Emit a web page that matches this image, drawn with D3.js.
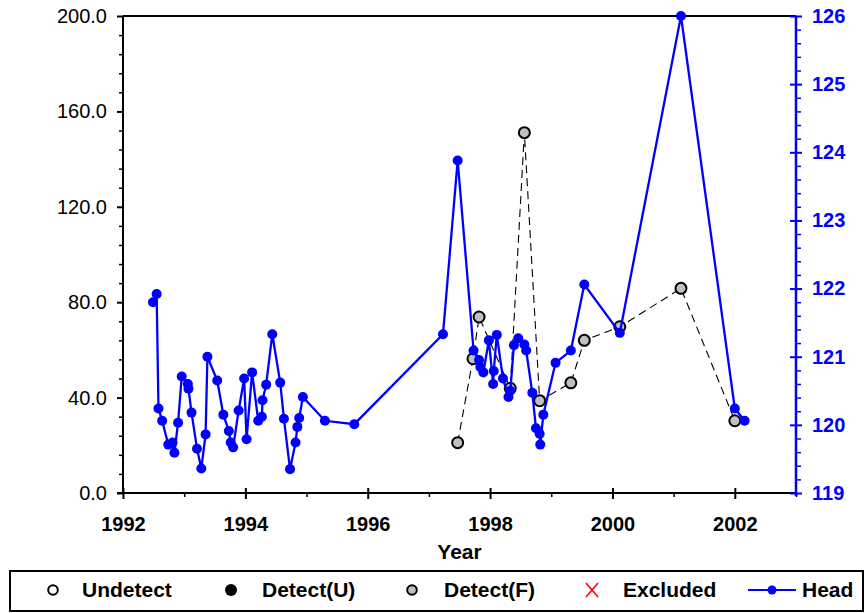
<!DOCTYPE html>
<html>
<head>
<meta charset="utf-8">
<script src="https://cdn.jsdelivr.net/npm/d3@7"></script>
<style>
  html, body { margin: 0; padding: 0; background: #fff; }
  svg { display: block; font-family: "Liberation Sans", Arial, sans-serif; }
</style>
</head>
<body>
<svg id="chart" width="866" height="613"></svg>
<script>
// ---- data ----
const headYears = [
  1992.49, 1992.55, 1992.58, 1992.64, 1992.74, 1992.81, 1992.84, 1992.90, 1992.96, 1993.06,
  1993.07, 1993.12, 1993.21, 1993.28, 1993.35, 1993.38, 1993.54, 1993.64, 1993.73, 1993.76,
  1993.80, 1993.89, 1993.98, 1994.02, 1994.11, 1994.21, 1994.27, 1994.28, 1994.34, 1994.44,
  1994.57, 1994.63, 1994.73, 1994.82, 1994.85, 1994.88, 1994.94, 1995.30, 1995.78, 1997.23,
  1997.47, 1997.73, 1997.82, 1997.84, 1997.89, 1997.98, 1998.05, 1998.06, 1998.11, 1998.21,
  1998.30, 1998.33, 1998.39, 1998.46, 1998.56, 1998.59, 1998.69, 1998.75, 1998.81, 1998.82,
  1998.87, 1999.07, 1999.32, 1999.54, 2000.12, 2001.12, 2002.00, 2002.16
];
const headValues = [
  121.80, 121.92, 120.24, 120.06, 119.71, 119.74, 119.59, 120.03, 120.71, 120.60,
  120.53, 120.18, 119.65, 119.36, 119.86, 121.00, 120.65, 120.15, 119.91, 119.74,
  119.67, 120.21, 120.68, 119.79, 120.77, 120.06, 120.12, 120.36, 120.59, 121.33,
  120.62, 120.09, 119.35, 119.74, 119.97, 120.10, 120.41, 120.06, 120.01, 121.33,
  123.88, 121.09, 120.95, 120.85, 120.77, 121.24, 120.60, 120.79, 121.32, 120.68,
  120.41, 120.50, 121.17, 121.27, 121.18, 121.09, 120.47, 119.95, 119.87, 119.71,
  120.15, 120.91, 121.09, 122.06, 121.35, 126.00, 120.24, 120.06
];
const detectFYears = [1997.47, 1997.72, 1997.82, 1998.33, 1998.56, 1998.81, 1999.32, 1999.54, 2000.12, 2001.12, 2002.00];
const detectFValues = [21.1, 56.3, 73.8, 43.9, 151.1, 38.7, 46.2, 64.0, 69.7, 85.8, 30.3];

const xMajorTicks = [1992, 1994, 1996, 1998, 2000, 2002];
const xMinorTicks = [1993, 1995, 1997, 1999, 2001, 2003];
const leftMajorTicks = [0, 40, 80, 120, 160, 200];
const rightMajorTicks = [119, 120, 121, 122, 123, 124, 125, 126];
const legendLabels = ["Undetect", "Detect(U)", "Detect(F)", "Excluded", "Head"];

// ---- layout ----
const L = 123, R = 796, T = 16, B = 493;
const BLUE = "#0000ff";
const svg = d3.select("#chart");

const x = d3.scaleLinear().domain([1992, 2003]).range([L, R]);
const yL = d3.scaleLinear().domain([0, 200]).range([B, T]);
const yR = d3.scaleLinear().domain([119, 126]).range([B, T]);

const leftMinor = d3.range(0, 200.001, 8).filter(v => !leftMajorTicks.includes(v));
const rightMinor = d3.range(119, 126.001, 0.2).map(v => +v.toFixed(1)).filter(v => Math.abs(v - Math.round(v)) > 1e-6);

function styleAxis(g, color, width) {
  g.selectAll("path.domain").remove();
  g.selectAll("line").attr("stroke", color).attr("stroke-width", width);
}

// top frame line
svg.append("line").attr("x1", L).attr("x2", R).attr("y1", T).attr("y2", T)
  .attr("stroke", "#000").attr("stroke-width", 2);

// ---- left axis ----
svg.append("g").attr("transform", `translate(${L},0)`)
  .call(d3.axisLeft(yL).tickValues(leftMinor).tickSize(4).tickFormat(""))
  .call(g => styleAxis(g, "#000", 1.5));
const gl = svg.append("g").attr("transform", `translate(${L},0)`)
  .call(d3.axisLeft(yL).tickValues(leftMajorTicks).tickSize(6).tickPadding(10).tickFormat(d3.format(".1f")))
  .call(g => styleAxis(g, "#000", 2));
gl.selectAll("text").attr("font-size", 20).attr("fill", "#000").attr("font-family", "'Liberation Sans', Arial, sans-serif");
svg.append("line").attr("x1", L).attr("x2", L).attr("y1", T).attr("y2", B)
  .attr("stroke", "#000").attr("stroke-width", 2);

// ---- bottom axis ----
svg.append("g").attr("transform", `translate(0,${B})`)
  .call(d3.axisBottom(x).tickValues(xMinorTicks).tickSize(4).tickFormat(""))
  .call(g => styleAxis(g, "#000", 1.5));
svg.append("g").attr("transform", `translate(0,${B})`)
  .call(d3.axisBottom(x).tickValues(xMajorTicks).tickSize(-5).tickFormat(""))
  .call(g => styleAxis(g, "#000", 2));
const gb = svg.append("g").attr("transform", `translate(0,${B})`)
  .call(d3.axisBottom(x).tickValues(xMajorTicks).tickSize(6).tickPadding(18).tickFormat(d3.format("d")))
  .call(g => styleAxis(g, "#000", 2));
gb.selectAll("text").attr("font-size", 20).attr("font-weight", "bold").attr("fill", "#000")
  .attr("font-family", "'Liberation Sans', Arial, sans-serif");
svg.append("line").attr("x1", L - 6).attr("x2", R).attr("y1", B).attr("y2", B)
  .attr("stroke", "#000").attr("stroke-width", 2);

svg.append("text").attr("x", (L + R) / 2).attr("y", 559).attr("text-anchor", "middle")
  .attr("font-size", 21).attr("font-weight", "bold").attr("fill", "#000").text("Year");

// ---- right axis ----
svg.append("g").attr("transform", `translate(${R},0)`)
  .call(d3.axisRight(yR).tickValues(rightMinor).tickSize(5).tickFormat(""))
  .call(g => styleAxis(g, BLUE, 1.5));
svg.append("g").attr("transform", `translate(${R},0)`)
  .call(d3.axisRight(yR).tickValues(rightMajorTicks).tickSize(-6).tickFormat(""))
  .call(g => styleAxis(g, BLUE, 2));
const gr = svg.append("g").attr("transform", `translate(${R},0)`)
  .call(d3.axisRight(yR).tickValues(rightMajorTicks).tickSize(6).tickPadding(10).tickFormat(d3.format("d")))
  .call(g => styleAxis(g, BLUE, 2));
gr.selectAll("text").attr("font-size", 20).attr("font-weight", "bold").attr("fill", BLUE)
  .attr("font-family", "'Liberation Sans', Arial, sans-serif");
svg.append("line").attr("x1", R).attr("x2", R).attr("y1", T).attr("y2", B + 3)
  .attr("stroke", BLUE).attr("stroke-width", 2.5);

// ---- Detect(F) series (left axis) ----
const detectF = detectFYears.map((d, i) => ({ x: d, y: detectFValues[i] }));
svg.append("path").datum(detectF)
  .attr("fill", "none").attr("stroke", "#000").attr("stroke-width", 1.1).attr("stroke-dasharray", "8,5")
  .attr("d", d3.line().x(d => x(d.x)).y(d => yL(d.y)));
svg.append("g").selectAll("circle").data(detectF).join("circle")
  .attr("cx", d => x(d.x)).attr("cy", d => yL(d.y)).attr("r", 5.5)
  .attr("fill", "#c0c0c0").attr("stroke", "#000").attr("stroke-width", 2);

// ---- Head series (right axis) ----
const head = headYears.map((d, i) => ({ x: d, y: headValues[i] }));
svg.append("path").datum(head)
  .attr("fill", "none").attr("stroke", BLUE).attr("stroke-width", 2.3)
  .attr("d", d3.line().x(d => x(d.x)).y(d => yR(d.y)));
svg.append("g").selectAll("circle").data(head).join("circle")
  .attr("cx", d => x(d.x)).attr("cy", d => yR(d.y)).attr("r", 5).attr("fill", BLUE);

// ---- legend ----
const lg = svg.append("g");
lg.append("rect").attr("x", 10).attr("y", 571).attr("width", 853).attr("height", 40)
  .attr("fill", "#fff").attr("stroke", "#000").attr("stroke-width", 2);
const ly = 590;
const symX = [53, 231, 412, 592, 772];
const textX = [82, 262, 444, 623, 802];
// Undetect
lg.append("circle").attr("cx", symX[0]).attr("cy", ly).attr("r", 4.8).attr("fill", "#fff").attr("stroke", "#000").attr("stroke-width", 2);
// Detect(U)
lg.append("circle").attr("cx", symX[1]).attr("cy", ly).attr("r", 6).attr("fill", "#000");
// Detect(F)
lg.append("circle").attr("cx", symX[2]).attr("cy", ly).attr("r", 4.8).attr("fill", "#c0c0c0").attr("stroke", "#000").attr("stroke-width", 2);
// Excluded
lg.append("path").attr("d", `M${symX[3]-6},${ly-7}L${symX[3]+6},${ly+7}M${symX[3]+6},${ly-7}L${symX[3]-6},${ly+7}`)
  .attr("stroke", "#ff0000").attr("stroke-width", 1.6).attr("fill", "none");
// Head
lg.append("line").attr("x1", 748).attr("x2", 796).attr("y1", ly).attr("y2", ly).attr("stroke", BLUE).attr("stroke-width", 2);
lg.append("circle").attr("cx", symX[4]).attr("cy", ly).attr("r", 4.5).attr("fill", BLUE);
lg.selectAll("text.lbl").data(legendLabels).join("text").attr("class", "lbl")
  .attr("x", (d, i) => textX[i]).attr("y", 597)
  .attr("font-size", 21).attr("font-weight", "bold").attr("fill", "#000").text(d => d);
</script>
</body>
</html>
